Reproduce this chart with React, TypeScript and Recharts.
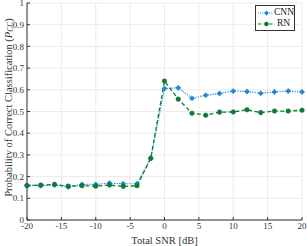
import React from 'react';
import {
  LineChart,
  Line,
  XAxis,
  YAxis,
  CartesianGrid,
} from 'recharts';

const snr = [-20, -18, -16, -14, -12, -10, -8, -6, -4, -2, 0, 2, 4, 6, 8, 10, 12, 14, 16, 18, 20];
const cnn = [0.161, 0.158, 0.161, 0.152, 0.164, 0.164, 0.17, 0.167, 0.167, 0.284, 0.606, 0.609, 0.561, 0.575, 0.583, 0.594, 0.592, 0.584, 0.59, 0.594, 0.59];
const rn = [0.158, 0.161, 0.164, 0.156, 0.158, 0.156, 0.161, 0.155, 0.158, 0.284, 0.64, 0.557, 0.492, 0.483, 0.497, 0.498, 0.508, 0.495, 0.502, 0.502, 0.506];
const xTicks = [-20, -15, -10, -5, 0, 5, 10, 15, 20];
const yTicks = [0, 0.1, 0.2, 0.3, 0.4, 0.5, 0.6, 0.7, 0.8, 0.9, 1];

const BLUE = '#1f86d6';
const GREEN = '#0d7a35';
const FONT = '"Liberation Serif", "DejaVu Serif", serif';

const data = snr.map((s, i) => ({ snr: s, cnn: cnn[i], rn: rn[i] }));

function Diamond(props: any) {
  const { cx, cy } = props;
  if (cx == null || cy == null) return null;
  const r = 2.6;
  return (
    <path
      d={`M${cx},${cy - r}L${cx + r},${cy}L${cx},${cy + r}L${cx - r},${cy}Z`}
      fill={BLUE}
      stroke={BLUE}
      strokeWidth={0.6}
    />
  );
}

function Dot(props: any) {
  const { cx, cy } = props;
  if (cx == null || cy == null) return null;
  return <circle cx={cx} cy={cy} r={2.3} fill={GREEN} stroke={GREEN} strokeWidth={0.5} />;
}

function YLabel(props: any) {
  const { viewBox } = props;
  const x = 8;
  const y = viewBox.y + viewBox.height / 2 - 4;
  return (
    <text
      x={x}
      y={y}
      transform={`rotate(-90, ${x}, ${y})`}
      textAnchor="middle"
      dominantBaseline="central"
      fontFamily={FONT}
      fontSize={10.5}
      fill="#333"
    >
      Probability of Correct Classification (
      <tspan fontStyle="italic">P</tspan>
      <tspan fontStyle="italic" fontSize={7.5} dy={2}>CC</tspan>
      <tspan dy={-2}>)</tspan>
    </text>
  );
}

function LegendBox() {
  return (
    <div
      style={{
        position: 'absolute',
        left: 255,
        top: 5,
        width: 40,
        boxSizing: 'border-box',
        border: '1px solid #333',
        background: '#fff',
        padding: '1px 0 1px 2px',
        fontFamily: FONT,
        fontSize: 9.5,
        color: '#222',
        lineHeight: '11px',
      }}
    >
      <div style={{ display: 'flex', alignItems: 'center' }}>
        <svg width={17} height={8}>
          <line x1={0} y1={4} x2={17} y2={4} stroke={BLUE} strokeDasharray="1 1.2" />
          <path d="M8.5,1.6L10.9,4L8.5,6.4L6.1,4Z" fill={BLUE} />
        </svg>
        <span style={{ marginLeft: 1 }}>CNN</span>
      </div>
      <div style={{ display: 'flex', alignItems: 'center' }}>
        <svg width={17} height={8}>
          <line x1={0} y1={4} x2={17} y2={4} stroke={GREEN} strokeDasharray="3.5 2" strokeWidth={1.2} />
          <circle cx={8.5} cy={4} r={2.2} fill={GREEN} />
        </svg>
        <span style={{ marginLeft: 2 }}>RN</span>
      </div>
    </div>
  );
}

export default function App() {
  return (
    <div style={{ position: 'absolute', left: 0, top: 0, width: 307, height: 246, background: '#fff' }}>
      <LineChart
        width={307}
        height={246}
        data={data}
        margin={{ top: 3, right: 5, left: 0, bottom: 0 }}
      >
        <CartesianGrid stroke="#e6e6e6" strokeWidth={0.8} />
        <XAxis
          dataKey="snr"
          type="number"
          domain={[-20, 20]}
          ticks={xTicks}
          interval={0}
          height={26}
          tickSize={-3}
          tickMargin={6}
          stroke="#333"
          tick={{ fontFamily: FONT, fontSize: 9, fill: '#333' }}
          tickFormatter={(v: number) => String(v)}
          label={{
            value: 'Total SNR [dB]',
            position: 'insideBottom',
            offset: 2,
            style: { fontFamily: FONT, fontSize: 10.5, fill: '#333' },
          }}
        />
        <XAxis
          xAxisId="top"
          orientation="top"
          dataKey="snr"
          type="number"
          domain={[-20, 20]}
          ticks={xTicks}
          height={0}
          tick={false}
          tickSize={-3}
          stroke="#333"
        />
        <YAxis
          type="number"
          domain={[0, 1]}
          ticks={yTicks}
          interval={0}
          width={27}
          tickSize={-3}
          tickMargin={6}
          stroke="#333"
          tick={{ fontFamily: FONT, fontSize: 9, fill: '#333' }}
          tickFormatter={(v: number) => (v === 0 || v === 1 ? String(v) : v.toFixed(1))}
          label={<YLabel />}
        />
        <YAxis
          yAxisId="right"
          orientation="right"
          type="number"
          domain={[0, 1]}
          ticks={yTicks}
          width={0}
          tick={false}
          tickSize={-3}
          stroke="#333"
        />
        <Line
          type="linear"
          dataKey="cnn"
          stroke={BLUE}
          strokeWidth={1.2}
          strokeDasharray="1.2 1.3"
          dot={<Diamond />}
          activeDot={false}
          isAnimationActive={false}
        />
        <Line
          type="linear"
          dataKey="rn"
          stroke={GREEN}
          strokeWidth={1.3}
          strokeDasharray="4 2.5"
          dot={<Dot />}
          activeDot={false}
          isAnimationActive={false}
        />
      </LineChart>
      <LegendBox />
    </div>
  );
}
